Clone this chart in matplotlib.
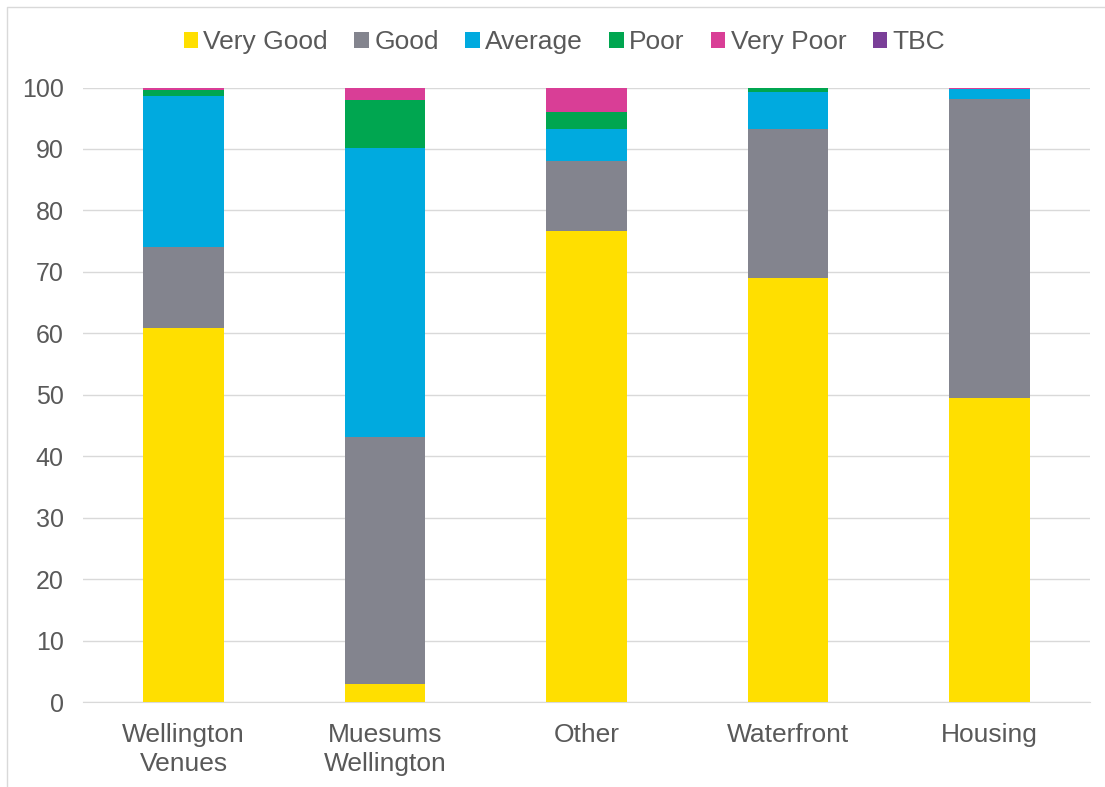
import numpy as np
import matplotlib.pyplot as plt
from matplotlib.lines import Line2D

plt.rcParams['font.family'] = ['Liberation Sans', 'DejaVu Sans']

categories = ['Wellington\nVenues', 'Muesums\nWellington', 'Other', 'Waterfront', 'Housing']
series = ['Very Good', 'Good', 'Average', 'Poor', 'Very Poor', 'TBC']
very_good = [60.9, 2.9, 76.6, 69.0, 49.5]
good = [13.1, 40.2, 11.4, 24.2, 48.6]
average = [24.7, 47.0, 5.2, 6.0, 1.6]
poor = [0.9, 7.8, 2.8, 0.7, 0.1]
very_poor = [0.4, 2.1, 4.0, 0.1, 0.2]
tbc = [0, 0, 0, 0, 0]
colors = ['#FFDF00', '#83848E', '#00AADF', '#00A650', '#D93E96', '#7A3F98']

fig = plt.figure(figsize=(11.05, 7.87), dpi=100)
ax = fig.add_axes([0.0751, 0.108, 0.9113, 0.7808])

x = np.arange(len(categories))
bottom = np.zeros(len(categories))
for name, vals, c in zip(series, [very_good, good, average, poor, very_poor, tbc], colors):
    vals = np.array(vals, dtype=float)
    ax.bar(x, vals, 0.4, bottom=bottom, color=c, label=name, zorder=3)
    bottom += vals

ax.set_xlim(-0.5, len(categories) - 0.5)
ax.set_ylim(0, 100)
ax.set_yticks(range(0, 101, 10))
ax.set_xticks(x)
ax.set_xticklabels(categories, fontsize=19, color='#595959', linespacing=1.28)
ax.tick_params(axis='y', labelsize=18, colors='#595959', length=0, pad=14)
ax.tick_params(axis='x', length=0, pad=15)
ax.grid(axis='y', color='#D9D9D9', linewidth=1, zorder=0)
for s in ['top', 'right', 'left']:
    ax.spines[s].set_visible(False)
ax.spines['bottom'].set_color('#D9D9D9')

ax.legend(loc='center', bbox_to_anchor=(0.478, 1.074), ncol=6, frameon=False,
          fontsize=19, labelcolor='#595959', handlelength=0.55, handleheight=0.55,
          handletextpad=0.2, columnspacing=1.0)

# chart area frame (top and left edges only)
fig.lines.append(Line2D([0.0065, 0.0065, 1.0], [0.0, 0.9917, 0.9917],
                        transform=fig.transFigure, color='#D9D9D9', linewidth=1))

fig.savefig('out.png', dpi=100)
